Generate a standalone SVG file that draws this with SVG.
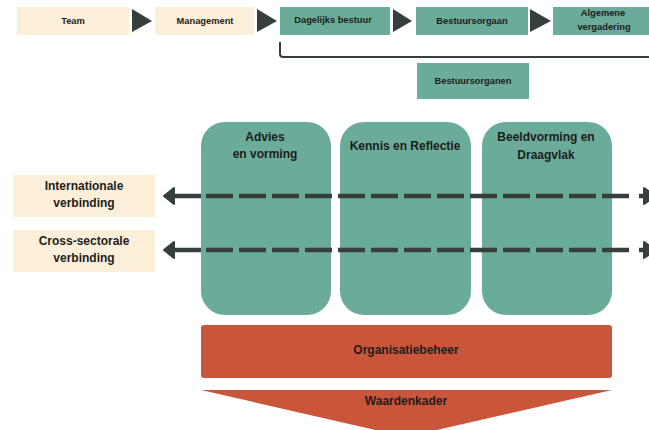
<svg xmlns="http://www.w3.org/2000/svg" width="649" height="430" viewBox="0 0 649 430">
<style>
.cream{fill:#fcefd9}
.teal{fill:#6aab9a}
.red{fill:#c9553b}
.tri{fill:#363f3c}
text{font-family:"Liberation Sans",Arial,sans-serif;font-weight:bold;fill:#1d1d1b;text-anchor:middle;dominant-baseline:central}
.s9{font-size:9.3px}
.s12{font-size:12px}
.dash{stroke:#363f3c;stroke-width:4.5;fill:none;stroke-dasharray:27 6}
.solid{stroke:#363f3c;stroke-width:4.5;fill:none}
.head{fill:#363f3c;stroke:#363f3c;stroke-width:2;stroke-linejoin:round}
</style>
<rect width="649" height="430" fill="#ffffff"/>
<g id="team"><rect class="cream" x="17" y="7" width="112" height="28"/><text class="s9" x="73" y="21">Team</text></g>
<g id="management"><rect class="cream" x="155" y="7" width="99" height="28"/><text class="s9" x="205" y="20.5">Management</text></g>
<g id="dagelijks"><rect class="teal" x="280" y="7" width="110" height="28"/><text class="s9" x="333" y="19.5">Dagelijks bestuur</text></g>
<g id="bestuursorgaan"><rect class="teal" x="416" y="7" width="112" height="28"/><text class="s9" x="472" y="20.5">Bestuursorgaan</text></g>
<g id="algemene"><rect class="teal" x="553" y="7" width="100" height="28"/><text class="s9" x="603" y="13">Algemene</text><text class="s9" x="604" y="27">vergadering</text></g>
<g id="bestuursorganen"><rect class="teal" x="417" y="63" width="112" height="36"/><text class="s9" x="473" y="80.5">Bestuursorganen</text></g>
<g id="advies"><rect class="teal" x="201" y="122" width="130" height="193" rx="24"/><text class="s12" x="265" y="137">Advies</text><text class="s12" x="265" y="154">en vorming</text></g>
<g id="kennis"><rect class="teal" x="340" y="122" width="131" height="193" rx="24"/><text class="s12" x="405" y="146">Kennis en Reflectie</text></g>
<g id="beeldvorming"><rect class="teal" x="482" y="122" width="130" height="193" rx="24"/><text class="s12" x="546" y="137">Beeldvorming en</text><text class="s12" x="546" y="155">Draagvlak</text></g>
<g id="internationale"><rect class="cream" x="13" y="175" width="142" height="42"/><text class="s12" x="84" y="186">Internationale</text><text class="s12" x="84" y="203">verbinding</text></g>
<g id="crosssectorale"><rect class="cream" x="13" y="230" width="142" height="42"/><text class="s12" x="84" y="241">Cross-sectorale</text><text class="s12" x="84" y="258">verbinding</text></g>
<g id="organisatiebeheer"><rect class="red" x="201" y="325" width="411" height="53" rx="3"/><text class="s12" x="406" y="350">Organisatiebeheer</text></g>
<g id="waardenkader"><polygon class="red" points="201,390 612,390 406,437"/><text class="s12" x="406" y="401">Waardenkader</text></g>
<g id="connectors">
<polygon class="tri" points="132,9 152,21 132,32"/>
<polygon class="tri" points="257,9 277,21 257,32"/>
<polygon class="tri" points="393,9 412,21 393,32"/>
<polygon class="tri" points="530,9 551,21 530,32"/>
<path d="M280,42 V54 Q280,57 283,57 H649" fill="none" stroke="#363f3c" stroke-width="2"/>
<path class="solid" d="M170,196 H201"/>
<path class="dash" d="M206,196 H634"/>
<path class="solid" d="M639,196 H649"/>
<polygon class="head" points="164,196 174,188 174,204"/>
<polygon class="head" points="656,196 644,188 644,204"/>
<path class="solid" d="M170,250 H201"/>
<path class="dash" d="M206,250 H634"/>
<path class="solid" d="M639,250 H649"/>
<polygon class="head" points="164,250 174,242 174,258"/>
<polygon class="head" points="656,250 644,242 644,258"/>
</g>
</svg>
